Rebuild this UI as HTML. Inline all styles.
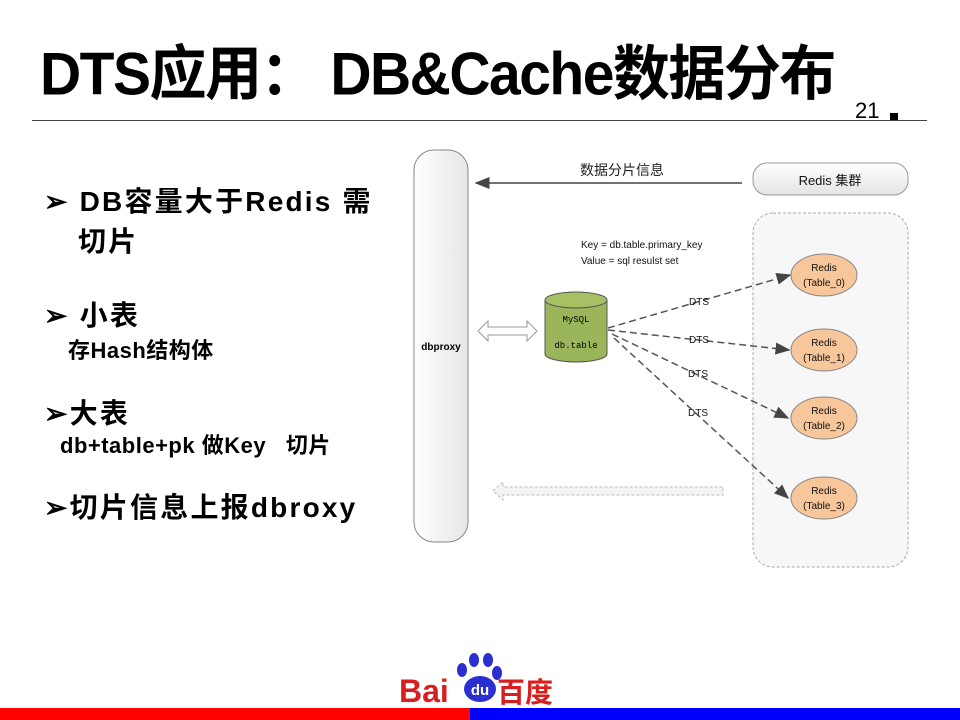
<!DOCTYPE html>
<html><head><meta charset="utf-8"><style>
body{margin:0;width:960px;height:720px;background:#fff;position:relative;overflow:hidden;font-family:"Liberation Sans","Noto Sans CJK SC",sans-serif}
.t{position:absolute;left:40px;top:26px;font-size:57px;font-weight:bold;letter-spacing:-1.5px;white-space:nowrap;transform:scaleY(1.05);transform-origin:left top}
.b{position:absolute;font-weight:bold;font-size:28px;letter-spacing:2.2px;white-space:nowrap}
.s{position:absolute;font-weight:bold;font-size:22px;letter-spacing:0.5px;white-space:nowrap}
</style></head><body>
<div class="t">DTS应用： DB&amp;Cache数据分布</div>
<div style="position:absolute;left:855px;top:98px;font-size:22px">21</div>
<div style="position:absolute;left:890px;top:113px;width:8px;height:7px;background:#000"></div>
<div style="position:absolute;left:32px;top:120px;width:895px;height:1px;background:#444"></div>
<div class="b" style="left:44px;top:180px">➢ DB容量大于Redis 需</div>
<div class="b" style="left:78px;top:220px">切片</div>
<div class="b" style="left:44px;top:294px">➢ 小表</div>
<div class="s" style="left:68px;top:333px">存Hash结构体</div>
<div class="b" style="left:44px;top:392px">➢大表</div>
<div class="s" style="left:60px;top:428px">db+table+pk 做Key &nbsp; 切片</div>
<div class="b" style="left:44px;top:486px">➢切片信息上报dbroxy</div>
<svg width="960" height="720" style="position:absolute;left:0;top:0" font-family="Liberation Sans, Noto Sans CJK SC, sans-serif">
<defs>
<linearGradient id="g" x1="0" x2="1"><stop offset="0" stop-color="#fff"/><stop offset="1" stop-color="#e6e6e6"/></linearGradient>
<linearGradient id="gv" x1="0" y1="0" x2="0" y2="1"><stop offset="0" stop-color="#fff"/><stop offset="1" stop-color="#e4e4e4"/></linearGradient>
<marker id="a" markerWidth="10" markerHeight="8" refX="9" refY="4" orient="auto"><path d="M0,0L10,4L0,8z" fill="#444"/></marker>
</defs>
<rect x="414" y="150" width="54" height="392" rx="20" fill="url(#g)" stroke="#888"/>
<text x="441" y="350" font-size="10" font-weight="bold" text-anchor="middle">dbproxy</text>
<line x1="742" y1="183" x2="476" y2="183" stroke="#444" stroke-width="1.5" marker-end="url(#a)"/>
<text x="622" y="175" font-size="14" text-anchor="middle" fill="#222">数据分片信息</text>
<rect x="753" y="163" width="155" height="32" rx="14" fill="url(#gv)" stroke="#999"/>
<text x="830" y="185" font-size="13" text-anchor="middle" fill="#111">Redis 集群</text>
<rect x="753" y="213" width="155" height="354" rx="20" fill="#f7f7f7" stroke="#aaa" stroke-dasharray="3,2"/>
<text x="581" y="248" font-size="10" fill="#111">Key = db.table.primary_key</text>
<text x="581" y="264" font-size="10" fill="#111">Value = sql resulst set</text>
<path d="M545,300 v54 a31,8 0 0 0 62,0 v-54" fill="#9bb55a" stroke="#555"/>
<ellipse cx="576" cy="300" rx="31" ry="8" fill="#a8c064" stroke="#555"/>
<text x="576" y="322" font-size="9" text-anchor="middle" font-family="Liberation Mono,monospace">MySQL</text>
<text x="576" y="348" font-size="9" text-anchor="middle" font-family="Liberation Mono,monospace">db.table</text>
<path d="M478,331 l10,-10 v6 h39 v-6 l10,10 l-10,10 v-6 h-39 v6z" fill="#fff" stroke="#999"/>
<path d="M493,491 l10,-9 v5 h220 v8 h-220 v5z" fill="#f4f4f4" stroke="#bbb" stroke-dasharray="3,2"/>
<g stroke="#555" stroke-width="1.5" stroke-dasharray="7,4" fill="none">
<line x1="608" y1="328" x2="790" y2="275" marker-end="url(#a)"/>
<line x1="608" y1="330" x2="789" y2="350" marker-end="url(#a)"/>
<line x1="612" y1="334" x2="788" y2="418" marker-end="url(#a)"/>
<line x1="614" y1="338" x2="788" y2="498" marker-end="url(#a)"/>
</g>
<g font-size="10" fill="#111" text-anchor="middle">
<text x="699" y="305">DTS</text><text x="699" y="343">DTS</text><text x="698" y="377">DTS</text><text x="698" y="416">DTS</text>
</g>
<g fill="#f7c69a" stroke="#888">
<ellipse cx="824" cy="275" rx="33" ry="21"/><ellipse cx="824" cy="350" rx="33" ry="21"/>
<ellipse cx="824" cy="418" rx="33" ry="21"/><ellipse cx="824" cy="498" rx="33" ry="21"/>
</g>
<g font-size="10" fill="#111" text-anchor="middle">
<text x="824" y="271">Redis</text><text x="824" y="286">(Table_0)</text>
<text x="824" y="346">Redis</text><text x="824" y="361">(Table_1)</text>
<text x="824" y="414">Redis</text><text x="824" y="429">(Table_2)</text>
<text x="824" y="494">Redis</text><text x="824" y="509">(Table_3)</text>
</g>
<g fill="#2b2fd0">
<ellipse cx="462" cy="670" rx="5" ry="7"/><ellipse cx="474" cy="660" rx="5" ry="7"/><ellipse cx="488" cy="660" rx="5" ry="7"/><ellipse cx="497" cy="673" rx="5" ry="7"/>
<ellipse cx="480" cy="689" rx="16" ry="13"/>
</g>
<text x="480" y="695" font-size="15" font-weight="bold" fill="#fff" text-anchor="middle">du</text>
<text x="399" y="702" font-size="32" font-weight="bold" fill="#d81e1e">Bai</text>
<text x="497" y="702" font-size="28" font-weight="bold" fill="#d81e1e">百度</text>
<rect x="0" y="708" width="470" height="12" fill="#f00"/>
<rect x="470" y="708" width="490" height="12" fill="#00f"/>
</svg>
</body></html>
